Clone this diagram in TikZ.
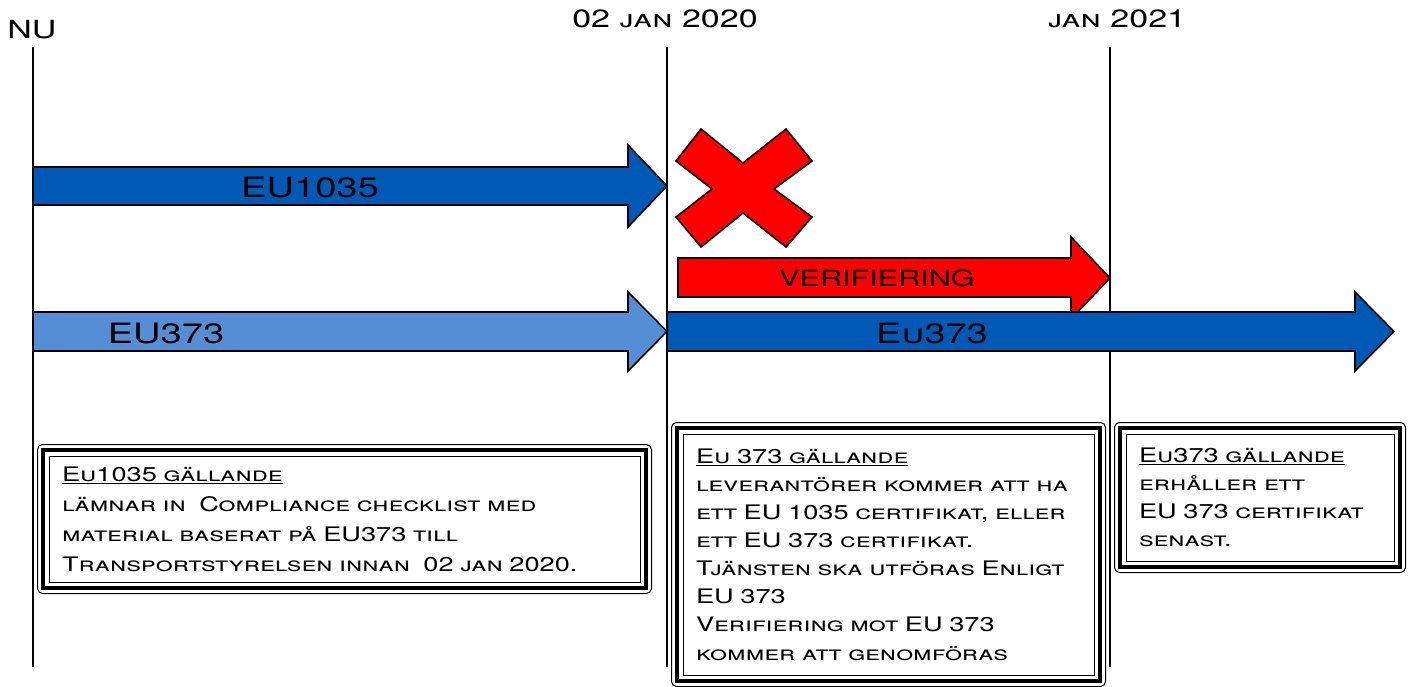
\documentclass[tikz,border=0pt]{standalone}
\usepackage{fontspec}
\setmainfont[FakeStretch=1.36]{TeX Gyre Heros}
\definecolor{darkblue}{RGB}{0,90,181}
\definecolor{lightblue}{RGB}{85,142,213}
\definecolor{crossred}{RGB}{255,0,0}

\begin{document}
\begin{tikzpicture}[x=1pt, y=-1pt,
  pil/.style = {draw, line width=1.6pt, line join=miter},
  pillabel/.style = {inner sep=0, anchor=base, font=\fontsize{28}{28}\selectfont\scshape},
  tidslinje/.style = {line width=1.2pt},
  datum/.style = {inner sep=0, anchor=base, font=\fontsize{25}{25}\selectfont\scshape},
  infobox/.style = {draw, line width=1pt, align=left, inner xsep=13pt,
    font=\fontsize{20}{30}\selectfont\scshape}]
  \useasboundingbox (0,0) rectangle (1410,687);

  % datum och tidslinjer
  \node[datum] (nu) at (32,39) {NU};
  \node[datum] (jan2020) at (665,28) {02 jan 2020};
  \node[datum] (jan2021) at (1117,28) {jan 2021};
  \draw[tidslinje] (33,47) -- (33,667);
  \draw[tidslinje] (667,47) -- (667,667);
  \draw[tidslinje] (1110,47) -- (1110,667);

  % pilar
  \draw[pil, fill=darkblue] (33,167) -- (628,167) -- (628,145) -- (667,186)
    -- (628,227) -- (628,205) -- (33,205) -- cycle;
  \node[pillabel] (eu1035) at (310,197) {EU1035};
  \draw[pil, fill=crossred] (678,258) -- (1071,258) -- (1071,237) -- (1110,278)
    -- (1071,319) -- (1071,297) -- (678,297) -- cycle;
  \node[pillabel, font=\fontsize{22.5}{22.5}\selectfont] (verif) at (877,286) {VERIFIERING};
  \draw[pil, fill=lightblue] (33,312) -- (628,312) -- (628,292) -- (667,331.5)
    -- (628,371) -- (628,351) -- (33,351) -- cycle;
  \node[pillabel] (eu373) at (166,343) {EU373};
  \draw[pil, fill=darkblue] (667,312) -- (1355,312) -- (1355,292) -- (1394,331.5)
    -- (1355,371) -- (1355,351) -- (667,351) -- cycle;
  \node[pillabel] (eu373ny) at (932,343) {Eu373};

  % kryss
  \draw[pil, fill=crossred] (701,129) -- (743,163) -- (786,129) -- (812,161) -- (774,189)
    -- (812,217) -- (786,247) -- (743,213) -- (701,247) -- (676,217) -- (712,189)
    -- (676,161) -- cycle;

  % textrutor
  \node[infobox, text width=565pt, minimum height=126pt] (gamla) at (344.5,519)
    {\underline{Eu1035 gällande}\\
     lämnar in \ Compliance checklist med\\
     material baserat på EU373 till\\
     Transportstyrelsen innan \ 02 jan 2020.};
  \node[infobox, text width=385pt, minimum height=241pt,
    font=\fontsize{20}{28.1}\selectfont\scshape] (overgang) at (888.5,554.5)
    {\underline{Eu 373 gällande}\\
     leverantörer kommer att ha\\
     ett EU 1035 certifikat, eller\\
     ett EU 373 certifikat.\\
     Tjänsten ska utföras Enligt\\
     EU 373\\
     Verifiering mot EU 373\\
     kommer att genomföras};
  \node[infobox, text width=242pt, minimum height=127pt,
    font=\fontsize{20}{28.1}\selectfont\scshape] (ny) at (1260,497.5)
    {\underline{Eu373 gällande}\\
     erhåller ett\\
     EU 373 certifikat\\
     senast.};
  \foreach \b in {gamla,overgang,ny} {
    \draw[line width=3.5pt] ([shift={(-5.5,-5.5)}]\b.north west) rectangle ([shift={(5.5,5.5)}]\b.south east);
    \draw[line width=1pt, rounded corners=5pt] ([shift={(-11,-11)}]\b.north west) rectangle ([shift={(11,11)}]\b.south east);
  }
\end{tikzpicture}
\end{document}
